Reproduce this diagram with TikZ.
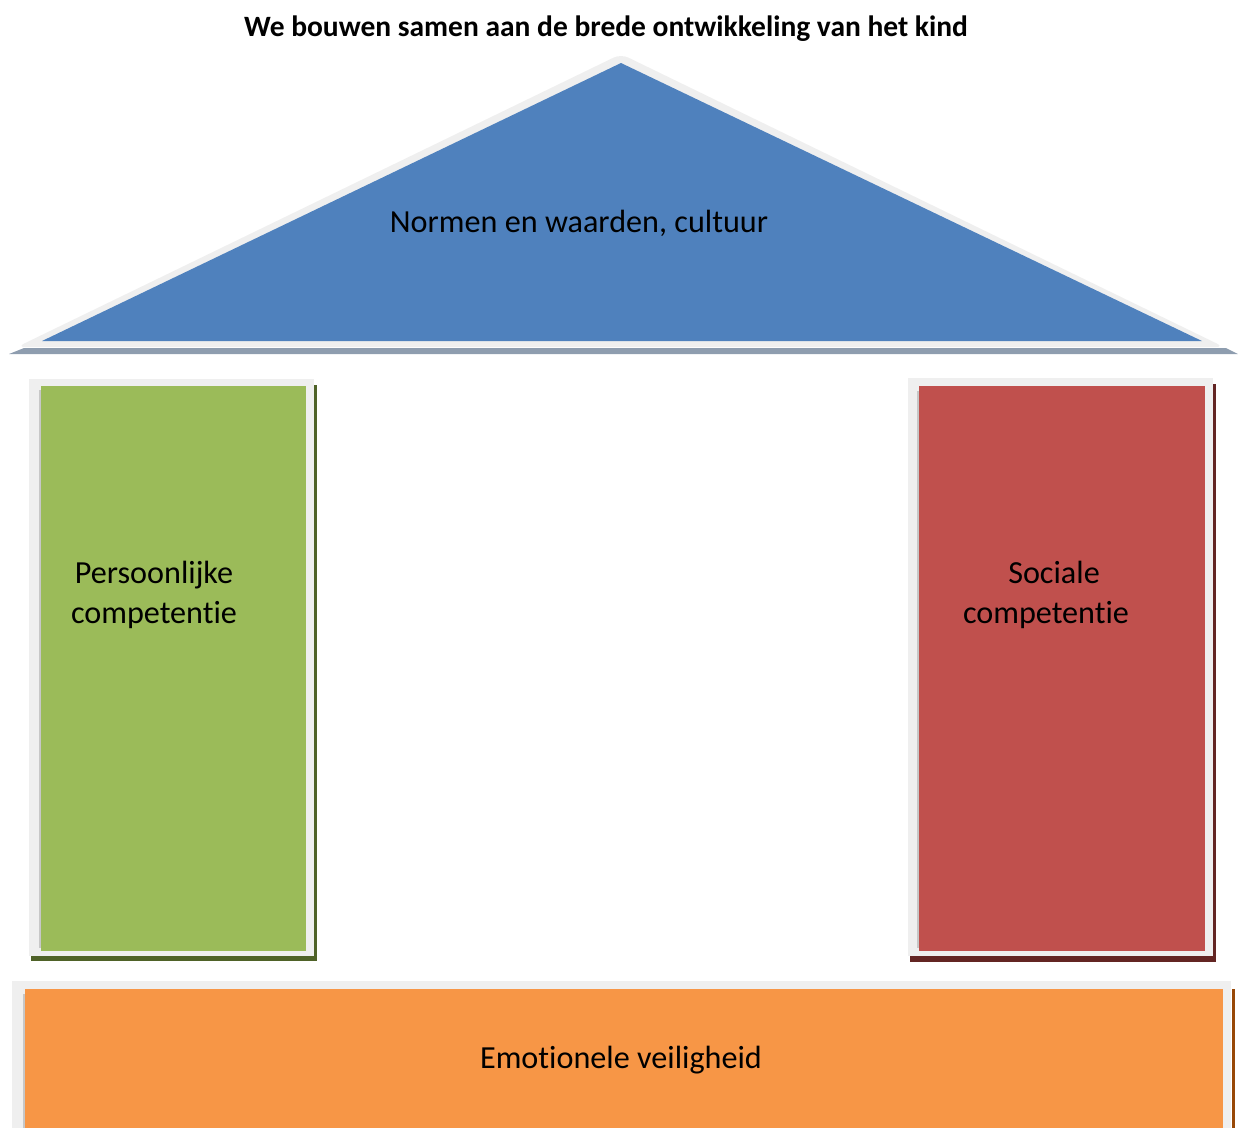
\documentclass[tikz,border=0pt]{standalone}
\usepackage{fontspec}
\setmainfont{Carlito}[Ligatures=NoCommon]
\usepackage{xcolor}
\usepackage{tikz}
\usetikzlibrary{positioning}
\usetikzlibrary{calc}
\definecolor{dakblauw}{HTML}{4F81BD}
\definecolor{pijlergroen}{HTML}{9BBB59}
\definecolor{pijlerrood}{HTML}{C0504D}
\definecolor{funderingoranje}{HTML}{F79646}
\definecolor{randgrijs}{HTML}{EFEFEF}
\definecolor{dakschaduw}{HTML}{8E9DAF}
\definecolor{groenschaduw}{HTML}{4F6228}
\definecolor{roodschaduw}{HTML}{632523}
\definecolor{oranjeschaduw}{HTML}{984807}
\tikzset{
  label_t/.style = {align=center, inner sep=0pt, font=\fontsize{12pt}{14.8pt}\selectfont},% gewone tekst
  titel_t/.style = {label_t, font=\fontsize{11pt}{14pt}\selectfont\bfseries},% titel boven het huis
  rand/.style = {fill=randgrijs},% lichtgrijze rand
  binnen/.style = {fill=black!22}% smalle schaduw links
}

\begin{document}
\begin{tikzpicture}[x=0.0131cm,y=-0.0131cm]
\useasboundingbox (0,0) rectangle (1238,1128);

% dak
\fill[dakschaduw] (9,354) -- (24,348) -- (1226,348) -- (1238,354) -- cycle;
\fill[rand, rounded corners=3pt] (621,54) -- (1224,347) -- (17,347) -- cycle;
\fill[dakblauw] (621,63) -- (1202,341) -- (42,341) -- cycle;

% linker pijler
\fill[groenschaduw] (31,385) rectangle (317,961);
\fill[rand] (29,379) rectangle (314,956);
\fill[binnen] (39,390) rectangle (306,948);
\fill[pijlergroen] (41,386) rectangle (306,951);

% rechter pijler
\fill[roodschaduw] (910,384) rectangle (1216,962);
\fill[rand] (908,378) rectangle (1213,956);
\fill[binnen] (917,391) rectangle (1205,948);
\fill[pijlerrood] (919,386) rectangle (1205,951);

% fundering
\fill[oranjeschaduw] (1232,989) rectangle (1235,1128);
\fill[rand] (12,981) rectangle (1231,1128);
\fill[binnen] (23,994) rectangle (1223,1128);
\fill[funderingoranje] (25,989) rectangle (1223,1128);

% teksten
\node[titel_t] (titel) at (606,29) {We bouwen samen aan de brede ontwikkeling van het kind};
\node[label_t] (dak) at (579,223) {Normen en waarden, cultuur};
\node[label_t] (persoonlijk) at (154,595) {Persoonlijke\\competentie};
\node[label_t] (sociaal) at (1046,595) {\hspace*{6pt}Sociale\\competentie};
\node[label_t] (emotioneel) at (621,1060) {Emotionele veiligheid};
\end{tikzpicture}
\end{document}
